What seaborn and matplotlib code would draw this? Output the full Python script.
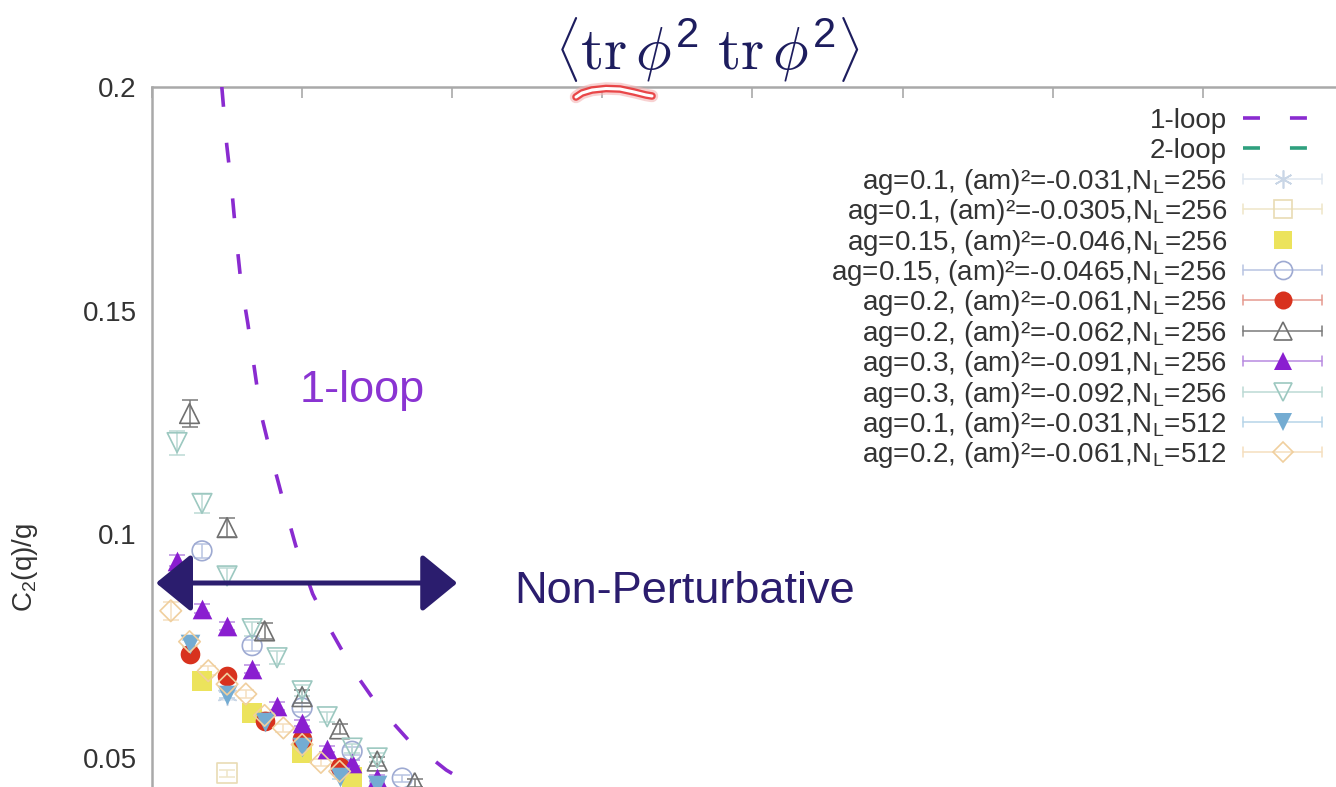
import numpy as np
import matplotlib
matplotlib.use("Agg")
import matplotlib.pyplot as plt
from matplotlib.lines import Line2D
import seaborn as sns

# ---------------- data ----------------
# one-loop perturbative curve, c2(q)/g versus q
loop1_q = [0.465, 0.498, 0.532, 0.558, 0.591, 0.638, 0.684, 0.724, 0.797, 0.877,
           0.957, 1.070, 1.196, 1.342, 1.515, 1.708, 1.960, 2.040]
loop1_c = [0.2000, 0.1870, 0.1769, 0.1673, 0.1568, 0.1472, 0.1366, 0.1272, 0.1172, 0.1071,
           0.0975, 0.0867, 0.0782, 0.0695, 0.0612, 0.0540, 0.0473, 0.0457]

labels = [
    "ag=0.1, (am)²=-0.031,N$_L$=256",
    "ag=0.1, (am)²=-0.0305,N$_L$=256",
    "ag=0.15, (am)²=-0.046,N$_L$=256",
    "ag=0.15, (am)²=-0.0465,N$_L$=256",
    "ag=0.2, (am)²=-0.061,N$_L$=256",
    "ag=0.2, (am)²=-0.062,N$_L$=256",
    "ag=0.3, (am)²=-0.091,N$_L$=256",
    "ag=0.3, (am)²=-0.092,N$_L$=256",
    "ag=0.1, (am)²=-0.031,N$_L$=512",
    "ag=0.2, (am)²=-0.061,N$_L$=512",
]

q_s1 = [0.5, 1.0]
c_s1 = [0.0640, 0.0520]
e_s1 = [0.0010, 0.0008]

q_s2 = [0.5]
c_s2 = [0.0466]
e_s2 = [0.0008]

q_s3 = [0.333, 0.667, 1.0, 1.333]
c_s3 = [0.0672, 0.0600, 0.0510, 0.0458]
e_s3 = [0.0006, 0.0005, 0.0005, 0.0005]

q_s4 = [0.333, 0.667, 1.0, 1.333, 1.667]
c_s4 = [0.0963, 0.0751, 0.0612, 0.0515, 0.0455]
e_s4 = [0.0015, 0.0012, 0.0010, 0.0009, 0.0008]

q_s5 = [0.25, 0.5, 0.75, 1.0, 1.25]
c_s5 = [0.0733, 0.0684, 0.0583, 0.0543, 0.0480]
e_s5 = [0.0008, 0.0008, 0.0007, 0.0007, 0.0006]

q_s6 = [0.25, 0.5, 0.75, 1.0, 1.25, 1.5, 1.75]
c_s6 = [0.1270, 0.1015, 0.0784, 0.0637, 0.0565, 0.0493, 0.0445]
e_s6 = [0.0030, 0.0022, 0.0018, 0.0014, 0.0012, 0.0010, 0.0009]

q_s7 = [0.167, 0.333, 0.5, 0.667, 0.833, 1.0, 1.167, 1.333, 1.5]
c_s7 = [0.0941, 0.0834, 0.0796, 0.0699, 0.0616, 0.0578, 0.0520, 0.0489, 0.0455]
e_s7 = [0.0012, 0.0010, 0.0009, 0.0008, 0.0008, 0.0007, 0.0007, 0.0006, 0.0006]

q_s8 = [0.167, 0.333, 0.5, 0.667, 0.833, 1.0, 1.167, 1.333, 1.5]
c_s8 = [0.1205, 0.1069, 0.0907, 0.0789, 0.0724, 0.0650, 0.0592, 0.0522, 0.0500]
e_s8 = [0.0027, 0.0022, 0.0018, 0.0016, 0.0014, 0.0012, 0.0011, 0.0010, 0.0010]

q_s9 = [0.25, 0.5, 0.75, 1.0, 1.25, 1.5]
c_s9 = [0.0755, 0.0640, 0.0580, 0.0525, 0.0458, 0.0440]
e_s9 = [0.0008, 0.0007, 0.0007, 0.0006, 0.0006, 0.0005]

q_s10 = [0.125, 0.25, 0.375, 0.5, 0.625, 0.75, 0.875, 1.0, 1.125, 1.25]
c_s10 = [0.0829, 0.0760, 0.0695, 0.0665, 0.0643, 0.0595, 0.0567, 0.0530, 0.0490, 0.0470]
e_s10 = [0.0020, 0.0012, 0.0010, 0.0009, 0.0009, 0.0008, 0.0008, 0.0007, 0.0007, 0.0006]

yticks = [0.05, 0.1, 0.15, 0.2]
ytick_labels = ["0.05", "0.1", "0.15", "0.2"]

# ---------------- styling ----------------
sns.set_theme(style="white")
plt.rcParams["font.family"] = ["Liberation Sans", "DejaVu Sans"]
plt.rcParams["mathtext.fontset"] = "custom"
plt.rcParams["mathtext.rm"] = "Liberation Sans"
plt.rcParams["mathtext.it"] = "Liberation Sans"
plt.rcParams["mathtext.default"] = "regular"

PURPLE = "#8a2bd0"
GREEN = "#2fa07e"
NAVY = "#2b1d6e"
TEXT = "#333333"

series = [
    # q, c, err, marker, face, edge, bar colour, bar shown in key
    (q_s1, c_s1, e_s1, (6, 2, 0), "#c9d6e6", "#c9d6e6", "#dfe7f0", True),
    (q_s2, c_s2, e_s2, "s", "none", "#e9dcb4", "#efe6c8", True),
    (q_s3, c_s3, e_s3, "s", "#ece35c", "#ece35c", "#f3eea0", False),
    (q_s4, c_s4, e_s4, "o", "none", "#9eaad2", "#b8c4e2", True),
    (q_s5, c_s5, e_s5, "o", "#d8321e", "#d8321e", "#e59a90", True),
    (q_s6, c_s6, e_s6, "^", "none", "#707070", "#7a7a7a", True),
    (q_s7, c_s7, e_s7, "^", "#8a1ed0", "#8a1ed0", "#b88ae0", True),
    (q_s8, c_s8, e_s8, "v", "none", "#9cc8c0", "#bcdad4", True),
    (q_s9, c_s9, e_s9, "v", "#74acd2", "#74acd2", "#b6d4e8", True),
    (q_s10, c_s10, e_s10, "D", "none", "#f0cf9e", "#f5dfbf", True),
]

W, H = 1336, 787
fig = plt.figure(figsize=(W / 100, H / 100), dpi=100)
fig.patch.set_facecolor("white")


def fx(px):
    return px / W


def fy(py):
    return 1 - py / H


# axes frame: q from 0.02 to 8, c from 0 to 0.2 (lower part lies below the canvas)
px_x0, px_unit = 149.0, 150.5
py_top, py_unit = 87.0, 4473.0
left_px = 152.0
right_px = px_x0 + 8.0 * px_unit
bottom_px = py_top + 0.2 * py_unit
ax = fig.add_axes([fx(left_px), fy(bottom_px),
                   (right_px - left_px) / W, (bottom_px - py_top) / H])
ax.set_xlim((left_px - px_x0) / px_unit, 8.0)
ax.set_ylim(0.0, 0.2)

# one-loop curve
sns.lineplot(x=loop1_q, y=loop1_c, ax=ax, color=PURPLE, lw=2.6, sort=False,
             estimator=None, zorder=3)
ax.lines[-1].set_dashes([5.5, 10])
ax.lines[-1].set_dash_capstyle("butt")

# lattice data with error bars
for i, (q, c, e, mk, fc, ec, bc, _) in enumerate(series):
    ax.errorbar(q, c, yerr=e, fmt="none", ecolor=bc, elinewidth=1.1,
                capsize=5.5, capthick=1.1, zorder=4 + i * 0.01)
    open_marker = fc == "none"
    sns.scatterplot(x=q, y=c, ax=ax, marker=mk, s=200 if mk != "D" else 120,
                    facecolor="none" if open_marker else fc,
                    edgecolor=ec, linewidth=1.2 if (open_marker or mk == (6, 2, 0)) else 0,
                    zorder=5 + i * 0.01, legend=False)

# axes cosmetics
for side in ("left", "top", "right", "bottom"):
    ax.spines[side].set_color("#a9a9a9")
    ax.spines[side].set_linewidth(1.8)
ax.set_yticks(yticks)
ax.set_yticklabels(ytick_labels)
ax.set_xticks(np.arange(0, 9, 1.0))
ax.tick_params(axis="both", direction="in", length=8, width=1.2, color="#a9a9a9",
               labelsize=20, labelcolor=TEXT, top=True, right=True, bottom=True,
               labelbottom=False, pad=11)
ax.set_ylabel("C$_2$(q)/g", fontsize=20, color=TEXT)
ax.yaxis.set_label_coords(-0.093, 0.4625)
ax.grid(False)

# annotations
ax.text((297 - px_x0) / px_unit, 0.2 - (402 - py_top) / py_unit, "1-loop",
        color="#8a34d2", fontsize=32.5, va="baseline", ha="left", zorder=8)
ax.text((512 - px_x0) / px_unit, 0.2 - (603 - py_top) / py_unit, "Non-Perturbative",
        color=NAVY, fontsize=32.5, va="baseline", ha="left", zorder=8)
arrow_y = 0.2 - (583 - py_top) / py_unit
ax.annotate("", xy=((455 - px_x0) / px_unit, arrow_y),
            xytext=((153 - px_x0) / px_unit, arrow_y),
            arrowprops=dict(arrowstyle="<|-|>,head_length=2.2,head_width=1.8",
                            color=NAVY, lw=3.6, shrinkA=0, shrinkB=0,
                            mutation_scale=10), zorder=9)

# title in Computer Modern
fig.text(fx(707), fy(50),
         r"$\left\langle \mathrm{tr}\,\mathit{\phi}^2\ \mathrm{tr}\,\mathit{\phi}^2 \right\rangle$",
         ha="center", va="center", fontsize=43, color="#1d1d5e", math_fontfamily="cm")

# hand-drawn highlight under the first trace
sx = np.array([576, 582, 592, 606, 620, 634, 646, 652])
sy = np.array([97, 93, 90, 88.5, 89, 92, 95, 96])
fig.add_artist(Line2D(fx(sx), fy(sy), color="#f4b4b4", lw=9,
                      solid_capstyle="round", alpha=0.6))
fig.add_artist(Line2D(fx(sx), fy(sy), color="#e8383a", lw=5.5,
                      solid_capstyle="round", alpha=0.9))
fig.add_artist(Line2D(fx(sx), fy(sy), color="white", lw=2.2,
                      solid_capstyle="round"))

# gnuplot-style key: right-aligned text, then sample (bar with end ticks + marker)
key_text_right = 1227
key_x0, key_x1, key_xm = 1243, 1322, 1283
row0, row_step = 118.0, 30.4


def key_row(i, text):
    yc = row0 + i * row_step
    fig.text(fx(key_text_right), fy(yc + 10), text, ha="right", va="baseline",
             fontsize=20, color=TEXT)
    return yc


for i, (name, col) in enumerate([("1-loop", PURPLE), ("2-loop", GREEN)]):
    yc = key_row(i, name)
    fig.add_artist(Line2D([fx(key_x0), fx(1307)], [fy(yc), fy(yc)], color=col,
                          lw=2.6, dashes=[4.7, 8.3], dash_capstyle="butt"))

for j, (lab, (q, c, e, mk, fc, ec, bc, bar)) in enumerate(zip(labels, series)):
    yc = key_row(j + 2, lab)
    if bar:
        fig.add_artist(Line2D([fx(key_x0), fx(key_x1)], [fy(yc), fy(yc)],
                              color=bc, lw=1.1))
        for xe in (key_x0, key_x1):
            fig.add_artist(Line2D([fx(xe), fx(xe)], [fy(yc - 5), fy(yc + 5)],
                                  color=bc, lw=1.1))
    open_marker = fc == "none"
    fig.add_artist(Line2D([fx(key_xm)], [fy(yc)], marker=mk, ls="none",
                          ms=13 if mk != "D" else 10,
                          mfc="none" if open_marker else fc, mec=ec,
                          mew=1.2 if (open_marker or mk == (6, 2, 0)) else 0))

fig.savefig("out.png", dpi=100, facecolor="white")
